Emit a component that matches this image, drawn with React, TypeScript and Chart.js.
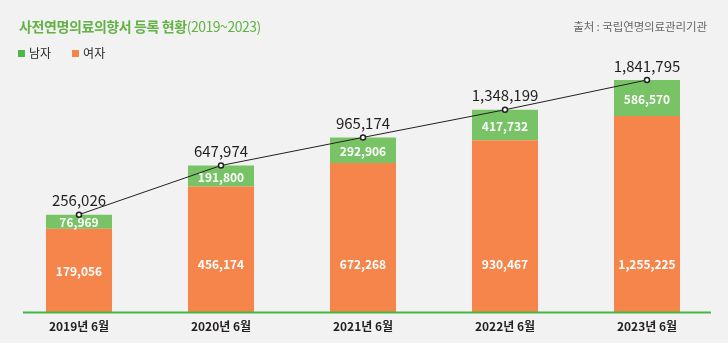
import React, { useEffect, useRef } from 'react';
import { Chart, LinearScale, registerables } from 'chart.js';

// ---- data ----
const categories = ['2019년 6월', '2020년 6월', '2021년 6월', '2022년 6월', '2023년 6월'];
const femaleValues = [179056, 456174, 672268, 930467, 1255225];
const maleValues = [76969, 191800, 292906, 417732, 586570];
const totalValues = [256026, 647974, 965174, 1348199, 1841795];
const maleLabel = '남자';
const femaleLabel = '여자';
const totalLabel = '합계';
const titleText = '사전연명의료의향서 등록 현황';
const titleRange = '(2019~2023)';
const sourceText = '출처 : 국립연명의료관리기관';

// the infographic uses a compressed (power) value axis
const SCALE_EXPONENT = 0.44;

const FONT = '"Noto Sans CJK KR", "Noto Sans", sans-serif';
const GREEN = '#78c366';
const LEGEND_GREEN = '#4cb848';
const ORANGE = '#f5854a';
const AXIS_GREEN = '#45b93f';
const TITLE_GREEN = '#62b245';
const DARK = '#231f20';

class PowerScale extends LinearScale {
  static id = 'power';
  static defaults = { ...(LinearScale as any).defaults };
  getPixelForValue(value: number) {
    if (value === null || value === undefined || isNaN(value)) return NaN;
    const range = (this as any).max - (this as any).min || 1;
    const t = Math.max(0, (value - (this as any).min) / range);
    return (this as any).getPixelForDecimal(Math.pow(t, SCALE_EXPONENT));
  }
  getValueForPixel(pixel: number) {
    const d = (this as any).getDecimalForPixel(pixel);
    return (this as any).min + Math.pow(Math.max(0, d), 1 / SCALE_EXPONENT) * ((this as any).max - (this as any).min);
  }
}

Chart.register(...registerables, PowerScale as any);

const fmt = (v: number) => v.toLocaleString('en-US');

const labelPlugin = {
  id: 'valueLabels',
  afterDatasetsDraw(chart: any) {
    const { ctx, chartArea } = chart;
    ctx.save();
    // baseline
    ctx.strokeStyle = AXIS_GREEN;
    ctx.lineWidth = 2;
    ctx.beginPath();
    ctx.moveTo(chartArea.left + 15, chartArea.bottom + 0.5);
    ctx.lineTo(chartArea.right - 7, chartArea.bottom + 0.5);
    ctx.stroke();

    ctx.textAlign = 'center';
    ctx.textBaseline = 'middle';
    chart.data.datasets.forEach((ds: any, di: number) => {
      const meta = chart.getDatasetMeta(di);
      meta.data.forEach((el: any, i: number) => {
        const v = ds.data[i];
        if (meta.type === 'bar') {
          const { x, y, base } = el.getProps(['x', 'y', 'base'], true);
          let ly = (y + base) / 2;
          if (ds.label === femaleLabel) ly = Math.max(ly, base - 49);
          ctx.fillStyle = '#ffffff';
          ctx.font = `bold 12px ${FONT}`;
          ctx.fillText(fmt(v), x, ly + 1);
        } else {
          const { x, y } = el.getProps(['x', 'y'], true);
          ctx.fillStyle = DARK;
          ctx.font = `15px ${FONT}`;
          ctx.fillText(fmt(v), x, y - 14);
        }
      });
    });
    ctx.restore();
  },
};

export default function App() {
  const canvasRef = useRef<HTMLCanvasElement | null>(null);

  useEffect(() => {
    if (!canvasRef.current) return;
    const chart = new Chart(canvasRef.current, {
      type: 'bar',
      data: {
        labels: categories,
        datasets: [
          {
            type: 'line',
            label: totalLabel,
            data: totalValues,
            stack: 'total',
            order: 0,
            borderColor: DARK,
            borderWidth: 1,
            pointRadius: 2.5,
            pointBorderWidth: 1.5,
            pointBackgroundColor: '#ffffff',
            pointBorderColor: DARK,
            tension: 0,
            clip: false,
          } as any,
          {
            label: femaleLabel,
            data: femaleValues,
            backgroundColor: ORANGE,
            stack: 'gender',
            order: 1,
          },
          {
            label: maleLabel,
            data: maleValues,
            backgroundColor: GREEN,
            stack: 'gender',
            order: 1,
          },
        ],
      },
      options: {
        responsive: false,
        animation: false,
        devicePixelRatio: 1,
        layout: { padding: { left: 8, right: 10, top: 80, bottom: 0 } },
        datasets: { bar: { categoryPercentage: 1, barPercentage: 0.465, borderWidth: 0 } } as any,
        plugins: {
          legend: { display: false },
          tooltip: { enabled: false },
          title: { display: false },
        },
        scales: {
          x: {
            stacked: true,
            grid: { display: false, drawTicks: false },
            border: { display: false },
            ticks: { color: DARK, font: { family: FONT, size: 12, weight: 'bold' }, padding: 7 },
            afterFit: (s: any) => {
              s.height = 39;
            },
          },
          y: {
            type: 'power' as any,
            stacked: true,
            display: false,
            min: 0,
            max: Math.max(...totalValues),
          },
        },
      } as any,
      plugins: [labelPlugin],
    });
    return () => chart.destroy();
  }, []);

  const legendItems = [
    { label: maleLabel, color: LEGEND_GREEN },
    { label: femaleLabel, color: ORANGE },
  ];

  return (
    <div style={{ position: 'fixed', left: 0, top: 0, width: 728, height: 351, background: '#ffffff', overflow: 'hidden' }}>
      <div style={{ position: 'absolute', left: 0, top: 0, width: 728, height: 343, background: '#f2f2f2' }} />
      <canvas ref={canvasRef} width={728} height={351} style={{ position: 'absolute', left: 0, top: 0, width: 728, height: 351 }} />
      <div
        style={{
          position: 'absolute',
          left: 19,
          top: 16,
          lineHeight: '20px',
          fontFamily: FONT,
          fontSize: 14,
          color: TITLE_GREEN,
          whiteSpace: 'nowrap',
        }}
      >
        <span style={{ fontWeight: 700, letterSpacing: '-0.4px' }}>{titleText}</span>
        <span style={{ fontWeight: 400, letterSpacing: '-0.5px' }}>{titleRange}</span>
      </div>
      <div
        style={{
          position: 'absolute',
          right: 21,
          top: 18,
          lineHeight: '16px',
          fontFamily: FONT,
          fontSize: 11.5,
          color: '#666666',
          whiteSpace: 'nowrap',
          letterSpacing: '-0.1px',
        }}
      >
        {sourceText}
      </div>
      <div
        style={{
          position: 'absolute',
          left: 18,
          top: 43,
          height: 20,
          display: 'flex',
          alignItems: 'center',
          fontFamily: FONT,
          fontSize: 12,
          color: DARK,
          whiteSpace: 'nowrap',
        }}
      >
        {legendItems.map((it) => (
          <div key={it.label} style={{ display: 'flex', alignItems: 'center', marginRight: 21 }}>
            <span style={{ display: 'inline-block', width: 7, height: 7, background: it.color, marginRight: 4 }} />
            <span style={{ lineHeight: '20px' }}>{it.label}</span>
          </div>
        ))}
      </div>
    </div>
  );
}
